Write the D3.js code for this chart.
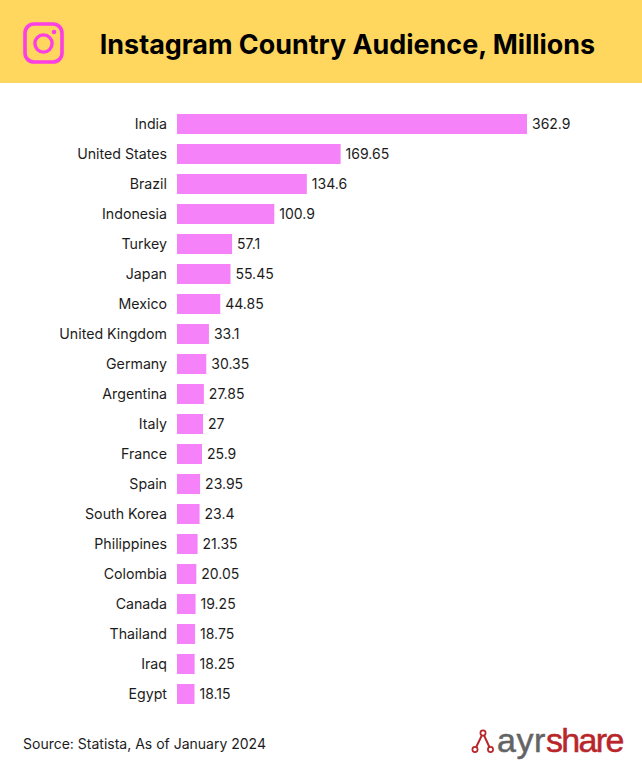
<!DOCTYPE html>
<html>
<head>
<meta charset="utf-8">
<script src="https://cdn.jsdelivr.net/npm/d3@7"></script>
<style>
  html, body { margin: 0; padding: 0; background: #fff; }
  svg { display: block; font-family: Inter, sans-serif; }
</style>
</head>
<body>
<svg id="chart"></svg>
<script>
const countries = ['India', 'United States', 'Brazil', 'Indonesia', 'Turkey', 'Japan', 'Mexico',
  'United Kingdom', 'Germany', 'Argentina', 'Italy', 'France', 'Spain', 'South Korea',
  'Philippines', 'Colombia', 'Canada', 'Thailand', 'Iraq', 'Egypt']
const audience = [362.9, 169.65, 134.6, 100.9, 57.1, 55.45, 44.85, 33.1, 30.35, 27.85, 27,
  25.9, 23.95, 23.4, 21.35, 20.05, 19.25, 18.75, 18.25, 18.15]

const width = 642
const height = 780

const svg = d3.select('#chart')
  .attr('width', width)
  .attr('height', height)

// Header band
svg.append('rect')
  .attr('width', width)
  .attr('height', 83)
  .attr('fill', '#ffd75e')

svg.append('text')
  .attr('x', 347.5)
  .attr('y', 53.5)
  .attr('text-anchor', 'middle')
  .attr('font-size', 26.9)
  .attr('font-weight', 700)
  .attr('fill', '#000')
  .text('Instagram Country Audience, Millions')

// Instagram icon
const icon = svg.append('g')
  .attr('fill', 'none')
  .attr('stroke', '#fb3fe4')
icon.append('rect')
  .attr('x', 25).attr('y', 24)
  .attr('width', 37).attr('height', 38)
  .attr('rx', 9)
  .attr('stroke-width', 3.6)
icon.append('circle')
  .attr('cx', 43.5).attr('cy', 43.5)
  .attr('r', 8.6)
  .attr('stroke-width', 3.4)
icon.append('circle')
  .attr('cx', 54).attr('cy', 32)
  .attr('r', 2.3)
  .attr('fill', '#fb3fe4')
  .attr('stroke', 'none')

// Bars
const x = d3.scaleLinear()
  .domain([0, 362.9])
  .range([177, 527])

const y = d3.scaleBand()
  .domain(countries)
  .range([109, 709])
  .paddingInner(1 / 3)
  .paddingOuter(1 / 6)

svg.append('g')
  .selectAll('rect')
  .data(audience)
  .join('rect')
  .attr('x', x(0))
  .attr('y', (d, i) => y(countries[i]))
  .attr('width', d => x(d) - x(0))
  .attr('height', y.bandwidth())
  .attr('fill', '#f582f9')

const yAxis = svg.append('g')
  .attr('transform', `translate(${x(0)},0.5)`)
  .call(d3.axisLeft(y).tickSize(0).tickPadding(10))
yAxis.select('.domain').remove()
yAxis.selectAll('text')
  .attr('font-family', 'Inter, sans-serif')
  .attr('font-size', 14.2)
  .attr('fill', '#1c1c1c')

svg.append('g')
  .selectAll('text')
  .data(audience)
  .join('text')
  .attr('x', d => x(d) + 5)
  .attr('y', (d, i) => y(countries[i]) + y.bandwidth() / 2 + 1)
  .attr('dy', '0.32em')
  .attr('font-size', 14)
  .attr('fill', '#1c1c1c')
  .text(d => d)

// Footer
svg.append('text')
  .attr('x', 23)
  .attr('y', 749)
  .attr('font-size', 14)
  .attr('fill', '#1c1c1c')
  .text('Source: Statista, As of January 2024')

const logo = svg.append('g')
const nodes = [[483, 733], [475, 749.5], [490.5, 749.5]]
logo.append('path')
  .attr('d', d3.line()([nodes[1], nodes[0], nodes[2]]))
  .attr('fill', 'none')
  .attr('stroke', '#b8262b')
  .attr('stroke-width', 2)
logo.selectAll('circle')
  .data(nodes)
  .join('circle')
  .attr('cx', d => d[0])
  .attr('cy', d => d[1])
  .attr('r', 2.6)
  .attr('fill', '#fff')
  .attr('stroke', '#b8262b')
  .attr('stroke-width', 1.7)

const logoText = logo.append('text')
  .attr('x', 497)
  .attr('y', 752)
  .attr('font-family', 'Liberation Sans, sans-serif')
  .attr('font-size', 34)
  .attr('stroke-width', 0.5)
logoText.append('tspan')
  .attr('fill', '#636466').attr('stroke', '#636466')
  .attr('letter-spacing', 0.6)
  .text('ayr')
logoText.append('tspan')
  .attr('fill', '#b8262b').attr('stroke', '#b8262b')
  .attr('letter-spacing', -1.7)
  .text('share')
</script>
</body>
</html>
